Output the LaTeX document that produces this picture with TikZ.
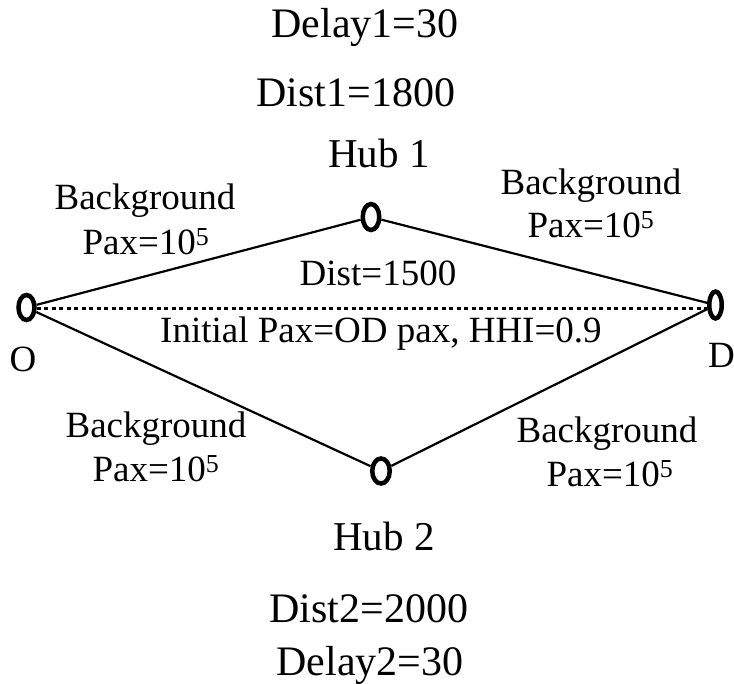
\documentclass[tikz,border=0pt]{standalone}
\usepackage{fontspec}
\setmainfont{Liberation Serif}
\usetikzlibrary{shapes.geometric}
\tikzset{
  hubnode/.style={draw, ellipse, line width=4.5pt, inner sep=0pt},
  txt/.style={inner sep=0pt, anchor=base, font=\fontsize{37}{44}\selectfont},
  bigtxt/.style={inner sep=0pt, anchor=base, font=\fontsize{42}{50}\selectfont},
  hubtxt/.style={inner sep=0pt, anchor=base, font=\fontsize{41}{48}\selectfont},
  link/.style={line width=2.2pt},
  direct/.style={line width=3.6pt, dash pattern=on 4.2pt off 3.3pt}
}
\begin{document}
\begin{tikzpicture}[x=1pt,y=-1pt]
\useasboundingbox (0,0) rectangle (734,684);
% nodes
\node[hubnode, minimum width=16pt, minimum height=25pt] (O) at (26.5,307.5) {};
\node[hubnode, minimum width=12.5pt, minimum height=27pt] (D) at (715.5,305) {};
\node[hubnode, minimum width=16.5pt, minimum height=26pt] (H1) at (371,217) {};
\node[hubnode, minimum width=17.5pt, minimum height=25pt] (H2) at (381,471) {};
% connectors
\draw[link] (O) -- (H1);
\draw[link] (H1) -- (D);
\draw[link] (O) -- (H2);
\draw[link] (H2) -- (D);
\coordinate (dend) at (D.west |- 0,308.5);
\draw[direct] (O.east |- 0,308.5) -- (dend);
% labels
\node[bigtxt] (delay1) at (365,38) {Delay1=30};
\node[bigtxt] (dist1) at (356,107) {Dist1=1800};
\node[hubtxt] (hub1) at (379,168) {Hub 1};
\node[txt] (bgul) at (145,210) {Background};
\node[txt] (paxul) at (146,255) {Pax=10\textsuperscript{5}};
\node[txt] (bgur) at (591,195) {Background};
\node[txt] (paxur) at (591,238) {Pax=10\textsuperscript{5}};
\node[txt] (bgll) at (156,438) {Background};
\node[txt] (paxll) at (156,482) {Pax=10\textsuperscript{5}};
\node[txt] (bglr) at (607,443) {Background};
\node[txt] (paxlr) at (610,487) {Pax=10\textsuperscript{5}};
\node[txt] (dist) at (378,286) {Dist=1500};
\node[txt, anchor=base west] (init) at (160,343) {Initial Pax=OD pax, HHI=0.9};
\node[txt] (olab) at (23,372) {O};
\node[txt, anchor=base west] (dlab) at (708,368) {D};
\node[hubtxt] (hub2) at (384,550) {Hub 2};
\node[bigtxt] (dist2) at (369,622) {Dist2=2000};
\node[bigtxt] (delay2) at (370,675) {Delay2=30};
\end{tikzpicture}
\end{document}
